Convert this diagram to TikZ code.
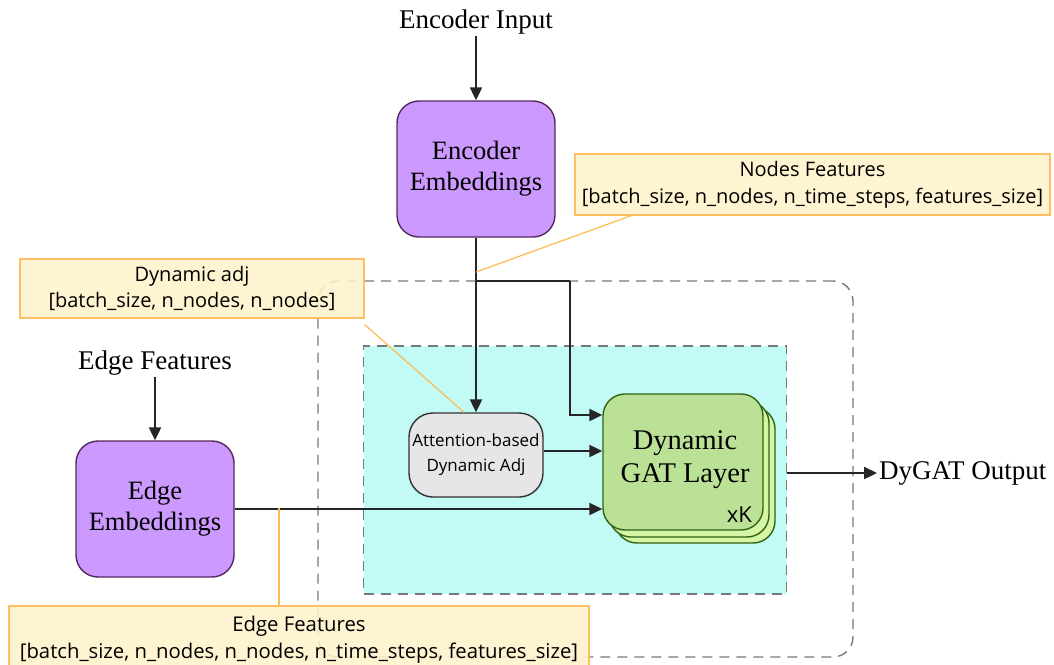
\documentclass[tikz,border=0pt]{standalone}
\usepackage{fontspec}
\setmainfont{Liberation Serif}
\setsansfont{Open Sans}
\usetikzlibrary{arrows.meta,calc}
\definecolor{purp}{RGB}{204,153,255}
\definecolor{purpd}{RGB}{85,40,95}
\definecolor{cyanf}{RGB}{194,251,245}
\definecolor{dgray}{RGB}{120,120,120}
\definecolor{attf}{RGB}{230,230,232}
\definecolor{attd}{RGB}{50,50,50}
\definecolor{gatf}{RGB}{187,225,150}
\definecolor{gatb}{RGB}{214,245,165}
\definecolor{gatd}{RGB}{50,100,20}
\definecolor{notef}{RGB}{255,242,204}
\definecolor{noted}{RGB}{255,190,100}
\definecolor{notel}{RGB}{255,185,80}
\begin{document}
\begin{tikzpicture}[x=1pt,y=-1pt,
  serifbig/.style={font=\fontsize{26.5}{31}\selectfont, align=center},
  embbox/.style={draw=purpd, line width=1.4pt, fill=purp, rounded corners=22pt,
    minimum width=158pt, minimum height=136pt, serifbig, inner sep=0pt},
  gatbox/.style={draw=gatd, line width=1.4pt, rounded corners=22pt,
    minimum width=160pt, minimum height=136pt, inner sep=0pt},
  attbox/.style={draw=attd, line width=1.4pt, fill=attf, rounded corners=24pt,
    minimum width=134pt, minimum height=84pt, align=center, inner sep=0pt,
    font=\sffamily\fontsize{17}{25}\selectfont},
  notebox/.style={draw=noted, line width=1.2pt, fill=notef, fill opacity=0.88, text opacity=1,
    align=center, inner sep=0pt},
  dashbox/.style={draw=dgray, line width=1.4pt, dash pattern=on 10pt off 7pt},
  arr/.style={line width=2.2pt, draw=black!85, -{Triangle[length=13pt,width=12pt]}},
  conn/.style={line width=2.2pt, draw=black!85},
  noteline/.style={draw=notel, line width=1.2pt},
  lbl/.style={font=\fontsize{27}{31}\selectfont, inner sep=2pt}
]
\useasboundingbox (0,0) rectangle (1054,664);

% containers
\node[dashbox, rounded corners=20pt, minimum width=535pt, minimum height=376pt, inner sep=0pt] (outer) at (585.5,469) {};
\node[dashbox, fill=cyanf, minimum width=423pt, minimum height=248pt, inner sep=0pt] (cyanb) at (575,470) {};

% labels
\node[lbl] (ei) at (476,22) {Encoder Input};
\node[lbl] (efl) at (155,363) {Edge Features};
\node[lbl, anchor=west] (out) at (877,473) {DyGAT Output};

% boxes
\node[embbox] (enc) at (476,169) {Encoder\\Embeddings};
\node[embbox] (edge) at (155,509) {Edge\\Embeddings};
\node[attbox] (att) at (476,455) {Attention-based\\Dynamic Adj};
\node[gatbox, fill=gatb] (gat3) at (695,475) {};
\node[gatbox, fill=gatb] (gat2) at (689,469) {};
\node[gatbox, fill=gatf] (gat) at (683,462) {};
\node[align=center, font=\fontsize{28.5}{33}\selectfont] (gatt) at (685,460) {Dynamic\\GAT Layer};
\node[font=\sffamily\fontsize{22}{24}\selectfont, anchor=base east, inner sep=0pt] (xk) at (752,522) {xK};

% notes
\node[notebox, minimum width=475pt, minimum height=61pt, font=\sffamily\fontsize{20}{27}\selectfont] (nf) at (812.5,184.5) {Nodes Features\\{}[batch\_size, n\_nodes, n\_time\_steps, features\_size]};
\node[notebox, minimum width=344pt, minimum height=59pt, font=\sffamily\fontsize{20}{26}\selectfont] (da) at (192,288.5) {Dynamic adj\\{}[batch\_size, n\_nodes, n\_nodes]};
\node[notebox, minimum width=580pt, minimum height=68pt, font=\sffamily\fontsize{20.3}{27}\selectfont] (efn) at (299,640) {Edge Features\\{}[batch\_size, n\_nodes, n\_nodes, n\_time\_steps, features\_size]};

% connectors
\coordinate (br) at (476,281);
\coordinate (bc) at (570,281);
\coordinate (bg) at (570,415);
\coordinate (nfp) at (476,272);
\coordinate (efp) at (279,508);
\draw[arr] (ei) -- (enc);
\draw[arr] (efl) -- (edge);
\draw[arr] (enc.south) -- (att.north);
\draw[conn] (br) -- (bc);
\draw[arr] (bc) -- (bg) -- (bg -| gat.west);
\draw[arr] ([yshift=4pt]att.east) -- ([yshift=4pt]att.east -| gat.west);
\draw[arr] (edge.east) -- (edge.east -| gat.west);
\draw[arr] (out.west -| cyanb.east) -- (out.west);

% note lines
\draw[noteline] (nfp) -- ([xshift=57pt]nf.south west);
\draw[noteline] ([yshift=-6pt]da.south east) -- ([xshift=-12pt]att.north);
\draw[noteline] (efp) -- (efp |- efn.north);
\end{tikzpicture}
\end{document}
